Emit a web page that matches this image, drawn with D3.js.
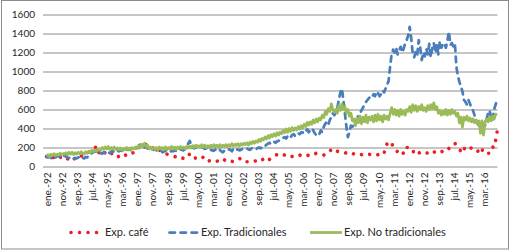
<!DOCTYPE html>
<html><head><meta charset="utf-8">
<script src="https://cdn.jsdelivr.net/npm/d3@7"></script>
<style>
body{margin:0;background:#fff}
svg{display:block}
text{font-family:Lato,"Noto Sans",sans-serif;fill:#262626}
</style>
</head><body>
<svg id="c" width="511" height="252"></svg>
<script>
const monthNames = ["ene.","feb.","mar.","abr.","may.","jun.","jul.","ago.","sep.","oct.","nov.","dic."];
const years = d3.range(1992, 2017);
const categories = years.flatMap(y => monthNames.map(m => `${m}-${String(y).slice(2)}`));
const yTicks = [0, 200, 400, 600, 800, 1000, 1200, 1400, 1600];
const xTickLabels = categories.filter((d, i) => i % 10 === 0);
const seriesNames = ["Exp. café", "Exp. Tradicionales", "Exp. No tradicionales"];

const cafe = [
105,95,100,110,90,100,105,95,110,100,90,105,
95,85,80,90,100,85,75,90,95,85,100,110,
110,120,130,140,150,155,160,170,190,215,170,140,
130,140,125,150,135,130,145,140,125,135,130,120,
100,110,105,120,115,125,130,120,130,140,150,160,
170,190,210,230,240,245,230,220,210,200,190,200,
210,200,180,170,160,150,140,135,130,125,120,115,
110,105,100,110,100,95,90,85,80,100,120,130,
95,90,85,90,95,100,90,85,100,80,60,55,
60,70,65,60,55,55,60,70,85,80,70,60,
50,55,60,55,50,50,60,70,80,90,80,70,
60,50,50,55,60,55,55,60,70,75,80,85,
60,55,50,60,75,90,100,110,120,125,130,135,
140,130,120,125,130,120,110,105,100,110,115,120,
120,115,110,120,125,120,115,110,120,125,130,140,
140,135,130,125,120,125,130,140,160,180,190,185,
170,160,155,150,145,140,140,145,140,135,130,140,
130,125,120,115,120,125,120,115,120,125,130,125,
125,130,125,120,125,130,125,120,140,200,240,260,
260,255,200,190,170,155,140,130,120,150,205,200,
200,205,190,170,140,120,125,140,150,145,155,150,
145,140,150,140,155,150,155,160,165,150,155,160,
160,155,170,190,205,220,235,245,220,205,180,160,
140,180,210,205,200,205,190,170,165,160,155,180,
205,180,140,140,145,140,140,150,205,200,275,365
];

const tradicionales = [
100,95,105,90,110,100,95,115,105,100,110,120,
110,105,95,90,100,85,80,90,85,95,100,110,
90,85,100,95,110,130,140,150,160,155,165,170,
140,135,150,145,160,150,140,155,165,150,160,170,
160,170,165,175,160,170,180,175,185,200,210,190,
200,215,230,240,220,200,210,190,180,195,185,175,
180,170,175,160,165,150,155,170,160,150,155,165,
160,170,165,175,170,180,175,170,185,200,240,270,
230,200,190,200,210,190,195,205,200,185,190,200,
190,175,170,165,180,160,170,175,160,150,165,160,
170,180,175,160,185,190,175,180,170,175,185,180,
185,190,180,175,190,195,185,180,195,200,190,205,
200,215,230,240,250,235,245,260,250,265,270,280,
290,300,310,295,320,330,310,330,340,320,345,350,
340,360,355,380,370,390,360,380,400,380,350,330,
320,340,380,360,420,450,470,440,490,520,560,540,
580,620,700,780,820,700,560,420,310,360,430,420,
440,470,500,540,560,590,620,650,680,700,720,740,
730,760,740,790,770,740,760,800,780,820,860,900,
1050,1180,1230,1200,1250,1180,1220,1260,1200,1240,1300,1330,
1380,1470,1350,1190,1150,1210,1170,1330,1250,1120,1200,1160,
1240,1180,1290,1150,1250,1300,1200,1280,1180,1320,1250,1290,
1300,1250,1320,1420,1280,1300,1260,1290,1050,950,890,840,
790,700,680,650,700,660,620,590,540,500,450,430,
450,420,410,430,500,560,590,520,480,600,650,700
];

const noTradicionales = [
110,125,105,130,115,135,115,130,120,140,125,135,
130,145,125,150,130,150,125,145,130,150,135,155,
140,130,155,140,160,145,170,155,175,160,180,170,
175,200,180,205,185,210,180,200,185,205,180,195,
175,195,170,190,175,200,180,195,170,195,185,205,
190,215,200,235,215,245,210,225,185,205,180,200,
180,200,175,205,185,200,180,205,175,200,185,210,
185,205,180,205,185,210,190,205,185,210,195,215,
195,220,200,225,205,220,200,230,205,225,200,220,
200,225,205,230,210,225,200,230,205,225,210,230,
210,230,215,240,215,235,220,240,215,240,225,245,
230,250,225,255,240,265,245,270,255,285,265,295,
280,310,290,325,300,335,315,345,320,355,330,360,
345,380,355,395,360,400,370,410,380,405,385,420,
395,430,405,445,420,465,435,470,445,490,460,500,
470,510,490,540,515,580,550,610,580,660,600,570,
600,560,640,590,660,600,630,560,600,530,560,480,
500,430,510,460,530,450,520,470,540,460,520,490,
530,470,540,480,550,490,530,470,540,500,530,490,
560,620,550,600,540,590,530,600,550,580,540,600,
580,630,570,650,590,640,580,630,600,650,590,620,
580,640,600,650,610,670,600,630,560,590,540,580,
550,600,540,590,550,600,560,580,530,560,460,520,
415,520,490,530,480,510,470,500,460,490,450,480,
350,480,330,470,500,470,520,480,530,500,550,540
];

const colors = {cafe: "#ee1c25", trad: "#4a7ebb", notrad: "#9bbb59"};

const svg = d3.select("#c");
svg.append("rect").attr("x", 1.5).attr("y", 0.5).attr("width", 507).attr("height", 248.5)
  .attr("fill", "#fff").attr("stroke", "#8c8c8c").attr("stroke-width", 1);

const plotLeft = 43, plotRight = 497.5;
const x = d3.scaleBand().domain(categories).range([45.75, 497.85]).padding(0);
const y = d3.scaleLinear().domain([0, 1600]).range([166.5, 14.5]);
const cx = c => x(c) + x.bandwidth() / 2;

// gridlines + y labels
const gy = svg.append("g").attr("transform", `translate(${plotLeft},0)`)
  .call(d3.axisLeft(y).tickValues(yTicks).tickSize(-(plotRight - plotLeft)).tickPadding(8).tickFormat(d3.format("d")));
gy.select(".domain").remove();
gy.selectAll(".tick line").attr("stroke", "#8c8c8c");
gy.selectAll(".tick text").attr("font-size", 10).attr("fill", "#262626").style("font-family", "Lato");

// x labels
const gx = svg.append("g").attr("transform", `translate(0,${y(0)})`)
  .call(d3.axisBottom(x).tickValues(xTickLabels).tickSize(0));
gx.select(".domain").remove();
gx.selectAll(".tick text")
  .attr("transform", "rotate(-90)")
  .attr("text-anchor", "end")
  .attr("x", -6).attr("y", 1).attr("dy", "0.35em")
  .attr("font-size", 10).attr("fill", "#262626").style("font-family", "Lato");

const line = d3.line().x((d, i) => cx(categories[i])).y(d => y(d));

svg.append("path").datum(cafe).attr("d", line)
  .attr("fill", "none").attr("stroke", colors.cafe).attr("stroke-width", 3.6)
  .attr("stroke-linecap", "round").attr("stroke-dasharray", "0.01 8.5");
svg.append("path").datum(tradicionales).attr("d", line)
  .attr("fill", "none").attr("stroke", colors.trad).attr("stroke-width", 2.75)
  .attr("stroke-linecap", "round").attr("stroke-linejoin", "round").attr("stroke-dasharray", "5.5 5.5");
svg.append("path").datum(noTradicionales).attr("d", line)
  .attr("fill", "none").attr("stroke", colors.notrad).attr("stroke-width", 2.75)
  .attr("stroke-linejoin", "round");

// legend
const ly = 232.5;
const lg = svg.append("g");
lg.append("line").attr("x1", 71).attr("x2", 97).attr("y1", ly).attr("y2", ly)
  .attr("stroke", colors.cafe).attr("stroke-width", 3.6).attr("stroke-linecap", "round").attr("stroke-dasharray", "0.01 8.5");
lg.append("line").attr("x1", 169.5).attr("x2", 197.5).attr("y1", ly).attr("y2", ly)
  .attr("stroke", colors.trad).attr("stroke-width", 2.75).attr("stroke-linecap", "round").attr("stroke-dasharray", "5.5 5.5");
lg.append("line").attr("x1", 310).attr("x2", 342).attr("y1", ly).attr("y2", ly)
  .attr("stroke", colors.notrad).attr("stroke-width", 2.75);
const legendX = [105, 201, 344];
lg.selectAll("text.leg").data(seriesNames).join("text").attr("class", "leg")
  .attr("x", (d, i) => legendX[i]).attr("y", ly).attr("dy", "0.35em")
  .attr("font-size", 11).text(d => d);
</script>
</body></html>
